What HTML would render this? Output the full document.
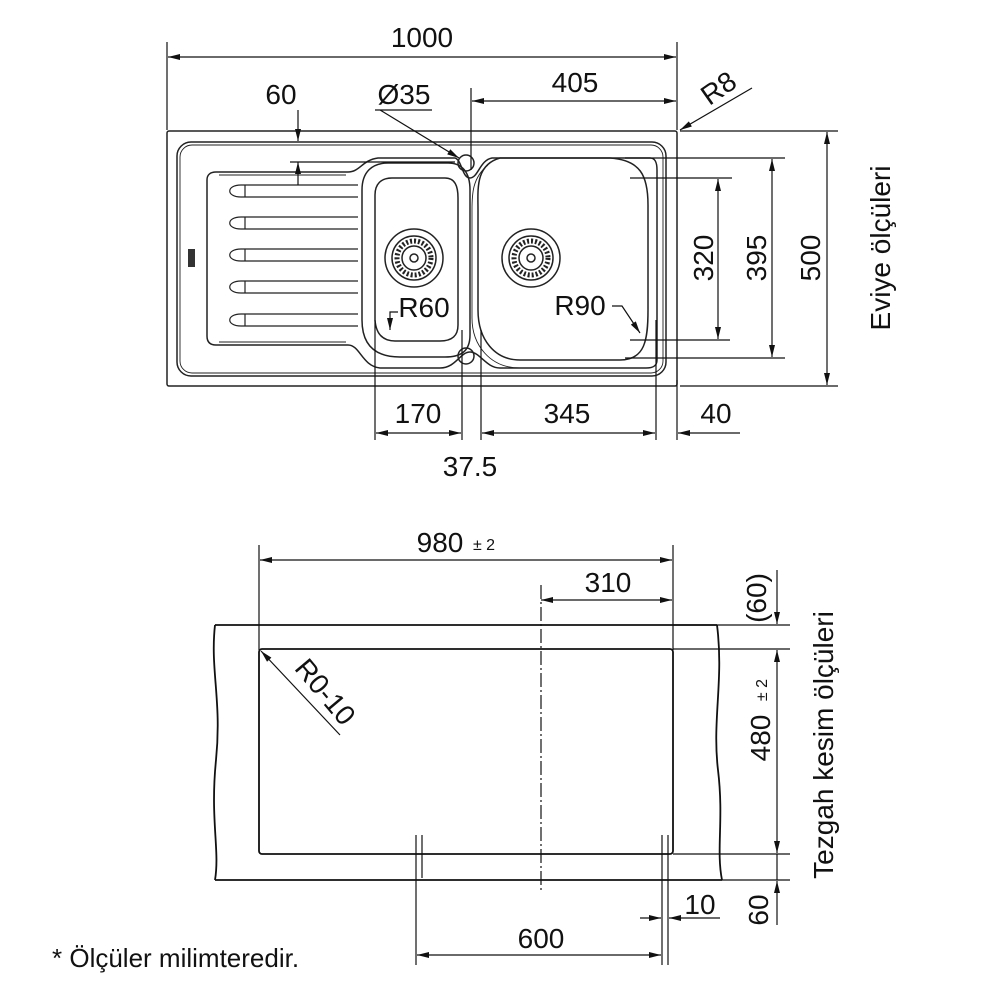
<!DOCTYPE html>
<html><head><meta charset="utf-8"><style>
html,body{margin:0;padding:0;background:#fff;}
svg{display:block;}
text{font-family:"Liberation Sans",Arial,sans-serif;fill:#111;}
</style></head><body>
<svg width="1000" height="1000" viewBox="0 0 1000 1000" xmlns="http://www.w3.org/2000/svg">
<defs>
<marker id="a" viewBox="0 0 12 6" refX="12" refY="3" markerWidth="13" markerHeight="6" orient="auto-start-reverse" markerUnits="userSpaceOnUse"><path d="M0,0L12,3L0,6z" fill="#111"/></marker>
</defs>
<g fill="none" stroke="#222" stroke-width="1.5">
<rect x="167" y="131" width="510" height="255" rx="2"/>
<rect x="177" y="142" width="489" height="234" rx="14"/>
<rect x="180" y="145" width="483" height="228" rx="12" stroke-width="0.9"/>
<path d="M216,172 H348 C360,172 362,160 378,158 L455,158 C462,160 462,178 470,178 C478,178 480,160 492,158 L650,158 C655,158 657,162 657,170 V360 C657,366 653,368 646,368 L500,368 C486,368 480,352 470,352 C460,352 456,368 440,368 L380,368 C362,366 360,345 348,345 H216 C210,345 207,342 207,336 V180 C207,175 210,172 216,172 Z"/>
<path d="M219,175 H346" stroke-width="0.9"/>
<path d="M219,342 H346" stroke-width="0.9"/>
<path d="M388,163 H448 C462,163 470,172 470,190 V335 C470,352 460,357 445,357 H400 C375,357 362,345 362,320 V190 C362,172 372,163 388,163 Z"/>
<path d="M392,178 H445 C455,178 458,186 458,198 V325 C458,336 452,341 440,341 H395 C382,341 376,333 375,320 V195 C375,184 381,178 392,178 Z"/>
<path d="M500,158 C475,165 478,190 478,210 V310 C478,340 495,360 520,360 H620 C645,360 648,340 648,310 V205 C648,175 640,160 610,158 Z"/>
<path d="M488,165 C472,178 472,195 472,210 V318 C472,345 490,368 520,368" stroke-width="0.9"/>
<g stroke-width="1.2">
<path d="M358,185 H241 C226,185 226,197 241,197 H358"/>
<path d="M358,217 H241 C226,217 226,229 241,229 H358"/>
<path d="M358,249 H241 C226,249 226,261 241,261 H358"/>
<path d="M358,281 H241 C226,281 226,293 241,293 H358"/>
<path d="M358,314 H241 C226,314 226,326 241,326 H358"/>
<path d="M245,185V197M245,217V229M245,249V261M245,281V293M245,314V326"/>
</g>
<circle cx="466" cy="163" r="8"/>
<circle cx="466" cy="356" r="8"/>
<circle cx="414" cy="258" r="29"/><circle cx="414" cy="258" r="22"/><circle cx="414" cy="258" r="17" stroke-width="5" stroke-dasharray="2 2"/><circle cx="414" cy="258" r="12"/><circle cx="414" cy="258" r="4"/>
<circle cx="531" cy="258" r="29"/><circle cx="531" cy="258" r="22"/><circle cx="531" cy="258" r="17" stroke-width="5" stroke-dasharray="2 2"/><circle cx="531" cy="258" r="12"/><circle cx="531" cy="258" r="4"/>
</g>
<rect x="188" y="249" width="7" height="18" fill="#333"/>
<g fill="none" stroke="#111" stroke-width="1.2">
<path d="M167,42V130M677,42V130"/>
<path d="M168,57H676" marker-start="url(#a)" marker-end="url(#a)"/>
<path d="M471,88V170"/>
<path d="M472,101H676" marker-start="url(#a)" marker-end="url(#a)"/>
<path d="M375,110H432M380,110L459,158" marker-end="url(#a)"/>
<path d="M298,110V141" marker-end="url(#a)"/>
<path d="M298,185V162" marker-end="url(#a)"/>
<path d="M290,162H455"/>
<path d="M752,88L680,130" marker-end="url(#a)"/>
<path d="M630,178H732M625,158H785M680,131H838M630,340H730M625,358H785M680,386H838"/>
<path d="M718,179V339" marker-start="url(#a)" marker-end="url(#a)"/>
<path d="M772,159V357" marker-start="url(#a)" marker-end="url(#a)"/>
<path d="M827,132V385" marker-start="url(#a)" marker-end="url(#a)"/>
<path d="M375,320V440M462,330V440M481,330V440M656,320V440M677,380V440"/>
<path d="M376,433H461" marker-start="url(#a)" marker-end="url(#a)"/>
<path d="M482,433H655" marker-start="url(#a)" marker-end="url(#a)"/>
<path d="M740,433H678" marker-end="url(#a)"/>
<path d="M398,312H390V330" marker-end="url(#a)"/>
<path d="M612,306H622L640,333" marker-end="url(#a)"/>
<path d="M259,545V650M673,545V650"/>
<path d="M260,560H672" marker-start="url(#a)" marker-end="url(#a)"/>
<path d="M541,600H672" marker-start="url(#a)" marker-end="url(#a)"/>
<path d="M541,585V890" stroke-dasharray="14 3 2 3"/>
<g stroke-width="1.8">
<path d="M215,625H717M215,880H722"/>
<path d="M215,625C210,670 222,700 216,760C210,820 220,850 215,880"/>
<path d="M717,625C724,680 712,720 718,770C724,820 716,850 722,880"/>
<rect x="259" y="649" width="414" height="205" rx="3"/>
</g>
<path d="M673,625H790M673,649H790M673,854H790M722,880H790"/>
<path d="M777,570V624" marker-end="url(#a)"/>
<path d="M777,650V853" marker-start="url(#a)" marker-end="url(#a)"/>
<path d="M777,925V881" marker-end="url(#a)"/>
<path d="M777,854V880"/>
<path d="M340,735L261,651" marker-end="url(#a)"/>
<path d="M416,835V965M422,835V878M662,835V965M668,835V965"/>
<path d="M417,955H661" marker-start="url(#a)" marker-end="url(#a)"/>
<path d="M640,918H661" marker-end="url(#a)"/>
<path d="M720,918H669" marker-end="url(#a)"/>
</g>
<g font-size="28" text-anchor="middle">
<text x="422" y="47">1000</text>
<text x="575" y="92">405</text>
<text x="404" y="104">Ø35</text>
<text x="281" y="104">60</text>
<text x="0" y="0" transform="translate(724,96) rotate(-35)">R8</text>
<text x="0" y="0" transform="translate(713,258) rotate(-90)">320</text>
<text x="0" y="0" transform="translate(766,258) rotate(-90)">395</text>
<text x="0" y="0" transform="translate(820,258) rotate(-90)">500</text>
<text x="0" y="0" transform="translate(890,248) rotate(-90)">Eviye ölçüleri</text>
<text x="424" y="317">R60</text>
<text x="580" y="315">R90</text>
<text x="418" y="423">170</text>
<text x="567" y="423">345</text>
<text x="716" y="423">40</text>
<text x="470" y="476">37.5</text>
<text x="440" y="552">980</text>
<text x="484" y="550" font-size="16">± 2</text>
<text x="608" y="592">310</text>
<text x="0" y="0" transform="translate(766,598) rotate(-90)">(60)</text>
<text x="0" y="0" transform="translate(770,738) rotate(-90)">480</text>
<text x="0" y="0" transform="translate(767,690) rotate(-90)" font-size="16">± 2</text>
<text x="0" y="0" transform="translate(768,910) rotate(-90)">60</text>
<text x="0" y="0" transform="translate(833,745) rotate(-90)">Tezgah kesim ölçüleri</text>
<text x="0" y="0" transform="translate(318,698) rotate(50)">R0-10</text>
<text x="541" y="948">600</text>
<text x="700" y="914">10</text>
</g>
<text x="52" y="967" font-size="26">* Ölçüler milimteredir.</text>
</svg>
</body></html>
